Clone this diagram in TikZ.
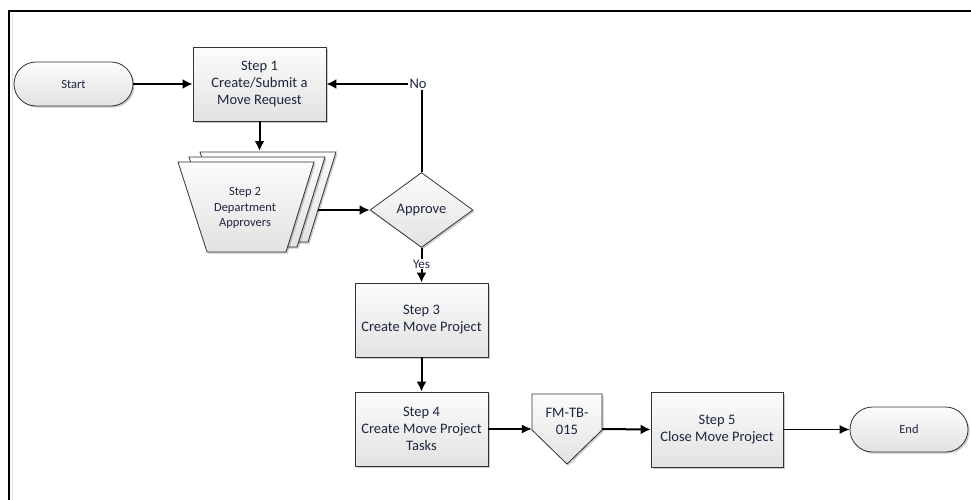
\documentclass[tikz,border=0pt]{standalone}
\usepackage{fontspec}
\setmainfont{Carlito}
\usetikzlibrary{arrows.meta,shapes.geometric,shapes.misc,shadows}
\definecolor{txt}{RGB}{30,38,62}
\definecolor{boxtop}{RGB}{252,252,252}
\definecolor{boxbot}{RGB}{226,226,226}
\tikzset{
  shade box/.style={draw=black!80, line width=0.8pt, top color=boxtop, bottom color=boxbot,
    drop shadow={shadow xshift=1.6pt, shadow yshift=-1.6pt, opacity=0.35, fill=black!60}},
  stepbox/.style={shade box, rectangle, minimum width=133pt, minimum height=74pt, inner sep=0pt,
    align=center, text=txt, font=\fontsize{14.5pt}{17pt}\selectfont},
  termbox/.style={shade box, rounded rectangle, minimum width=119pt, minimum height=44pt, inner sep=0pt,
    text=txt, font=\fontsize{12.5pt}{15pt}\selectfont},
  decbox/.style={shade box, diamond, minimum width=103pt, minimum height=75pt, inner sep=0pt,
    text=txt, font=\fontsize{14.5pt}{17pt}\selectfont},
  lbl/.style={inner sep=1pt, text=txt},
  thickarrow/.style={line width=2pt, -{Latex[length=10pt,width=10pt]}},
  thinarrow/.style={line width=1.1pt, -{Latex[length=10pt,width=9pt]}},
  thickline/.style={line width=2pt},
}
\begin{document}
\begin{tikzpicture}[x=1pt,y=-1pt]
\useasboundingbox (0,0) rectangle (971,500);
% frame
\draw[gray!25, line width=1.5pt] (12.5,13) -- (12.5,500);
\draw[line width=2.5pt] (9,500) -- (9,11) -- (971,11);

% nodes
\node[termbox] (start) at (73.5,84) {Start};
\node[stepbox] (step1) at (259.5,84) {Step 1\\Create/Submit a\\Move Request};

% step 2 stacked trapezoids
\foreach \dx/\dy in {22/-10, 11/-5, 0/0}{
  \path[shade box] (178+\dx,162+\dy) -- (314+\dx,162+\dy) -- (286+\dx,252+\dy) -- (207+\dx,252+\dy) -- cycle;
}
\node[align=center, text=txt, font=\fontsize{12.5pt}{15.5pt}\selectfont] (step2) at (245,208) {Step 2\\Department\\Approvers};
\coordinate (s2in) at (259.5,151);
\coordinate (s2out) at (318,210);

\node[decbox] (approve) at (421.5,210) {Approve};
\node[lbl, font=\fontsize{14.5pt}{17pt}\selectfont] (no) at (418,84) {No};
\node[lbl, font=\fontsize{13pt}{15pt}\selectfont] (yes) at (421.5,264) {Yes};

\node[stepbox] (step3) at (421.5,320) {Step 3\\Create Move Project};
\node[stepbox] (step4) at (421.5,429) {Step 4\\Create Move Project\\Tasks};

% off-page connector
\path[shade box] (532,394) -- (602,394) -- (602,430) -- (567,464) -- (532,430) -- cycle;
\node[minimum width=70pt, minimum height=70pt, inner sep=0pt] (fm) at (567,429) {};
\node[align=center, text=txt, font=\fontsize{14.5pt}{17pt}\selectfont] (fmlabel) at (567,421) {FM-TB-\\015};

\node[stepbox, minimum width=132pt, minimum height=75pt] (step5) at (717,429.5) {Step 5\\Close Move Project};
\node[termbox, minimum width=118pt, minimum height=45pt] (end) at (909,429.5) {End};

% connectors
\draw[thickarrow] (start.east) -- (step1.west);
\draw[thickarrow] (step1.south) -- (s2in);
\draw[thickarrow] (s2out) -- (approve.west);
\draw[thickline] (approve.north) -- (approve.north |- no.south);
\draw[thickarrow] (no.west) -- (step1.east);
\draw[thickline] (approve.south) -- (yes.north);
\draw[thickarrow] (yes.south) -- (step3.north);
\draw[thickarrow] (step3.south) -- (step4.north);
\draw[thinarrow] (step4.east) -- (fm.west);
\draw[thickarrow] (fm.east) -- (step5.west);
\draw[thinarrow] (step5.east) -- (end.west);
\end{tikzpicture}
\end{document}
